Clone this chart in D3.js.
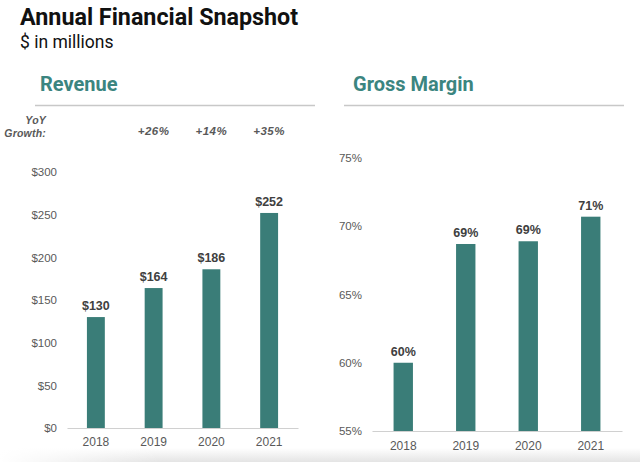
<!DOCTYPE html>
<html><head><meta charset="utf-8">
<script src="https://cdn.jsdelivr.net/npm/d3@7"></script>
<style>body{margin:0;background:#fff}svg{display:block}</style>
</head><body>
<script>
const years = ["2018","2019","2020","2021"];
const revenue = [130,164,186,252];
const revenueLabels = ["$130","$164","$186","$252"];
const growth = ["","+26%","+14%","+35%"];
const revenueTicks = [0,50,100,150,200,250,300];
const grossMargin = [60.0,68.7,68.9,70.7];
const grossMarginLabels = ["60%","69%","69%","71%"];
const marginTicks = [55,60,65,70,75];

const W=640,H=462;
const teal="#3a7d78", titleTeal="#3b8580", grey="#595959", dark="#404040";
const svg=d3.select("body").append("svg").attr("width",W).attr("height",H);

const defs=svg.append("defs");
const g1=defs.append("linearGradient").attr("id","fadeV").attr("x1",0).attr("y1",0).attr("x2",0).attr("y2",1);
g1.append("stop").attr("offset","0%").attr("stop-color","#fff");
g1.append("stop").attr("offset","100%").attr("stop-color","#e4e4e4");
const g2=defs.append("linearGradient").attr("id","fadeH").attr("x1",0).attr("y1",0).attr("x2",1).attr("y2",0);
g2.append("stop").attr("offset","0%").attr("stop-color","#fff").attr("stop-opacity",1);
g2.append("stop").attr("offset","25%").attr("stop-color","#fff").attr("stop-opacity",0);
svg.append("rect").attr("x",0).attr("y",448).attr("width",W).attr("height",14).attr("fill","url(#fadeV)");
svg.append("rect").attr("x",0).attr("y",448).attr("width",W).attr("height",14).attr("fill","url(#fadeH)");

svg.append("text").attr("x",20).attr("y",25).attr("font-family","Roboto, Inter, sans-serif")
  .attr("font-weight","bold").attr("font-size",23.3).attr("fill","#111").text("Annual Financial Snapshot");
svg.append("text").attr("x",20).attr("y",48).attr("font-family","Roboto, Inter, sans-serif")
  .attr("font-size",17.5).attr("fill","#111").text("$ in millions");

function panel(o){
  svg.append("text").attr("x",o.titleX).attr("y",91).attr("font-family","Roboto, Inter, sans-serif")
    .attr("font-weight","bold").attr("font-size",20).attr("fill",titleTeal).text(o.title);
  svg.append("line").attr("x1",o.lineX1).attr("x2",o.lineX2).attr("y1",105.5).attr("y2",105.5)
    .attr("stroke","#c8c8c8").attr("stroke-width",1.5);
  const x=d3.scaleBand().domain(years).range([o.x0,o.x1]).paddingInner(o.pad).paddingOuter(o.pad/2);
  const y=d3.scaleLinear().domain(o.domain).range([o.base,o.top]);
  const g=svg.append("g");
  const ya=g.append("g").attr("transform",`translate(${o.labelX},0)`)
    .call(d3.axisLeft(y).tickValues(o.ticks).tickSize(0).tickPadding(0).tickFormat(o.fmt));
  ya.select(".domain").remove();
  ya.selectAll("text").attr("font-family","Liberation Sans, Arial, sans-serif").attr("font-size",11.5).attr("fill",grey);
  g.selectAll("rect.bar").data(o.values).join("rect").attr("class","bar")
    .attr("x",(d,i)=>x(years[i])).attr("width",x.bandwidth())
    .attr("y",d=>y(d)).attr("height",d=>o.base-y(d)).attr("fill",teal);
  const xa=g.append("g").attr("transform",`translate(0,${o.base})`)
    .call(d3.axisBottom(x).tickSize(0).tickPadding(o.yearPad));
  xa.select(".domain").attr("stroke","#d0d0d0").attr("stroke-width",1.2);
  xa.selectAll("text").attr("font-family","Liberation Sans, Arial, sans-serif").attr("font-size",12).attr("fill",grey);
  g.selectAll("text.val").data(o.values).join("text").attr("class","val")
    .attr("x",(d,i)=>x(years[i])+x.bandwidth()/2).attr("y",d=>y(d)-7)
    .attr("text-anchor","middle").attr("font-family","Liberation Sans, Arial, sans-serif")
    .attr("font-weight","bold").attr("font-size",12.5).attr("fill",dark)
    .text((d,i)=>o.labels[i]);
  return x;
}

const xr=panel({title:"Revenue",titleX:40,lineX1:35,lineX2:315,x0:67,x1:298,pad:0.69,
  domain:[0,300],base:428,top:172,ticks:revenueTicks,fmt:d=>"$"+d,labelX:57,
  values:revenue,labels:revenueLabels,yearPad:9});
panel({title:"Gross Margin",titleX:353,lineX1:344,lineX2:624,x0:372,x1:622,pad:0.69,
  domain:[55,75],base:431,top:158,ticks:marginTicks,fmt:d=>d+"%",labelX:362,
  values:grossMargin,labels:grossMarginLabels,yearPad:10});

const gf="Liberation Sans, Arial, sans-serif";
svg.append("text").attr("x",46).attr("y",124).attr("text-anchor","end").attr("font-family",gf)
  .attr("font-style","italic").attr("font-weight","bold").attr("font-size",10.5).attr("letter-spacing",0.2).attr("fill",grey).text("YoY");
svg.append("text").attr("x",46).attr("y",137).attr("text-anchor","end").attr("font-family",gf)
  .attr("font-style","italic").attr("font-weight","bold").attr("font-size",10.5).attr("letter-spacing",0.2).attr("fill",grey).text("Growth:");
svg.selectAll("text.gr").data(growth).join("text").attr("class","gr")
  .attr("x",(d,i)=>xr(years[i])+xr.bandwidth()/2).attr("y",134.5)
  .attr("text-anchor","middle").attr("font-family",gf).attr("font-style","italic")
  .attr("font-weight","bold").attr("font-size",11.5).attr("letter-spacing",0.5).attr("fill",grey).text(d=>d);
</script>
</body></html>
